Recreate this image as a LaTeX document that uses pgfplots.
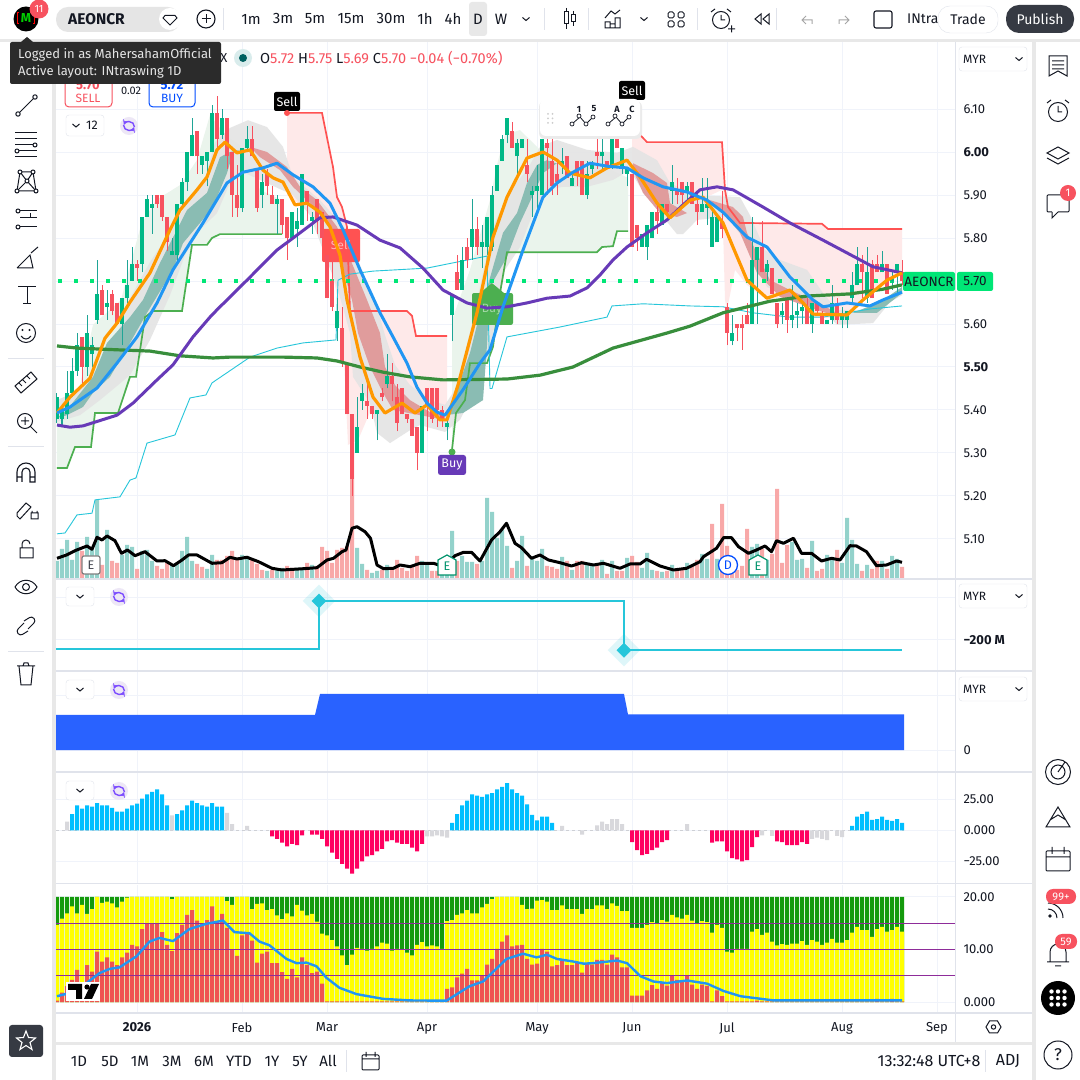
\documentclass[border=0pt]{standalone}
\usepackage{pgfplots}
\usepackage{pgfplotstable}
\usepackage{fontspec}
\pgfplotsset{compat=1.18}
\setmainfont{Fira Sans}
\definecolor{ink}{HTML}{131722}
\definecolor{gridc}{HTML}{F0F3FA}
\definecolor{sep}{HTML}{E0E3EB}
\definecolor{band}{HTML}{E8E8E8}
\definecolor{upw}{HTML}{1FA596}
\definecolor{upb}{HTML}{00B886}
\definecolor{dn}{HTML}{F7525F}
\definecolor{volu}{HTML}{93D2CB}
\definecolor{vold}{HTML}{F8A8A8}
\definecolor{pinkf}{HTML}{FEE9E9}
\definecolor{greenf}{HTML}{EAF4EC}
\definecolor{cloud}{HTML}{E4E4E4}
\definecolor{tealb}{HTML}{8ABCB3}
\definecolor{redb}{HTML}{E09C9C}
\definecolor{maor}{HTML}{FF9800}
\definecolor{mabl}{HTML}{2196F3}
\definecolor{mapu}{HTML}{673AB7}
\definecolor{magr}{HTML}{388E3C}
\definecolor{stopr}{HTML}{FF5252}
\definecolor{stopg}{HTML}{4CAF50}
\definecolor{thinc}{HTML}{26C6DA}
\definecolor{dotg}{HTML}{00E676}
\definecolor{histb}{HTML}{00BFFF}
\definecolor{histp}{HTML}{FF0060}
\definecolor{histg}{HTML}{D8D8DC}
\definecolor{pgreen}{HTML}{149A0C}
\definecolor{pyellow}{HTML}{FFFF00}
\definecolor{pred}{HTML}{EF5350}
\definecolor{ppurple}{HTML}{8E2C9A}
\definecolor{syncbg}{HTML}{EDE7F6}
\definecolor{syncf}{HTML}{7C4DFF}
\definecolor{paneb}{HTML}{2962FF}
\pgfplotstableread{
i o h l c
0 5.38 5.44 5.37 5.43
1 5.38 5.41 5.36 5.40
2 5.39 5.49 5.38 5.44
3 5.44 5.52 5.43 5.49
4 5.49 5.58 5.48 5.55
5 5.57 5.57 5.46 5.50
6 5.50 5.62 5.48 5.58
7 5.53 5.57 5.50 5.55
8 5.61 5.75 5.60 5.67
9 5.68 5.69 5.62 5.62
10 5.64 5.68 5.61 5.65
11 5.67 5.68 5.62 5.63
12 5.65 5.65 5.60 5.60
13 5.60 5.66 5.55 5.66
14 5.66 5.75 5.65 5.69
15 5.70 5.78 5.70 5.74
16 5.74 5.75 5.70 5.73
17 5.74 5.85 5.72 5.85
18 5.85 5.90 5.85 5.89
19 5.87 5.90 5.81 5.88
20 5.90 5.90 5.87 5.88
21 5.90 5.90 5.84 5.85
22 5.85 5.85 5.77 5.79
23 5.76 5.80 5.76 5.77
24 5.76 5.88 5.74 5.88
25 5.88 5.94 5.87 5.93
26 5.93 6.00 5.91 6.00
27 5.99 6.08 5.99 6.04
28 6.05 6.05 5.95 5.99
29 5.97 5.99 5.95 5.99
30 5.98 6.00 5.92 6.00
31 6.00 6.11 6.00 6.09
32 6.09 6.13 6.00 6.03
33 6.04 6.10 6.03 6.08
34 6.08 6.08 5.96 5.99
35 6.00 6.00 5.85 5.90
36 5.90 5.97 5.85 5.87
37 5.87 6.01 5.86 6.01
38 6.01 6.06 6.00 6.03
39 6.03 6.06 5.99 5.99
40 5.96 5.96 5.86 5.87
41 5.90 5.95 5.87 5.93
42 5.95 5.96 5.90 5.92
43 5.90 5.92 5.88 5.88
44 5.88 5.90 5.81 5.89
45 5.89 5.89 5.81 5.83
46 5.85 5.85 5.75 5.80
47 5.80 5.86 5.80 5.86
48 5.82 5.87 5.78 5.84
49 5.83 5.95 5.83 5.95
50 5.91 5.91 5.84 5.88
51 5.84 5.86 5.81 5.85
52 5.89 5.89 5.81 5.84
53 5.86 5.86 5.80 5.80
54 5.76 5.76 5.66 5.66
55 5.70 5.75 5.63 5.64
56 5.59 5.66 5.56 5.63
57 5.59 5.64 5.50 5.51
58 5.51 5.51 5.39 5.39
59 5.39 5.39 5.20 5.24
60 5.30 5.43 5.30 5.36
61 5.42 5.46 5.40 5.44
62 5.42 5.46 5.38 5.41
63 5.41 5.41 5.38 5.39
64 5.39 5.40 5.33 5.40
65 5.44 5.45 5.42 5.43
66 5.46 5.53 5.45 5.48
67 5.48 5.51 5.42 5.46
68 5.43 5.46 5.35 5.37
69 5.45 5.45 5.39 5.39
70 5.39 5.39 5.37 5.38
71 5.38 5.38 5.34 5.34
72 5.36 5.36 5.26 5.30
73 5.30 5.41 5.30 5.41
74 5.45 5.45 5.35 5.41
75 5.45 5.45 5.37 5.38
76 5.45 5.45 5.36 5.40
77 5.40 5.41 5.36 5.38
78 5.36 5.39 5.33 5.37
79 5.62 5.67 5.56 5.67
80 5.72 5.76 5.68 5.68
81 5.68 5.78 5.68 5.75
82 5.78 5.80 5.73 5.75
83 5.78 5.89 5.75 5.82
84 5.82 5.85 5.76 5.78
85 5.78 5.83 5.73 5.79
86 5.78 5.85 5.76 5.85
87 5.78 5.92 5.77 5.90
88 5.91 5.97 5.91 5.97
89 5.98 6.04 5.98 6.03
90 6.04 6.08 6.02 6.08
91 6.05 6.07 6.01 6.01
92 5.99 6.03 5.95 6.02
93 6.01 6.03 6.01 6.03
94 5.97 6.03 5.93 5.95
95 5.90 5.92 5.85 5.91
96 5.91 5.97 5.87 5.92
97 5.90 6.03 5.90 6.03
98 6.02 6.06 5.90 6.01
99 5.98 6.03 5.90 5.92
100 5.95 5.98 5.90 5.93
101 5.97 6.01 5.95 5.98
102 5.99 5.99 5.94 5.94
103 5.92 5.95 5.92 5.94
104 5.98 5.98 5.92 5.95
105 5.98 5.98 5.90 5.90
106 5.90 5.98 5.89 5.95
107 5.96 5.98 5.95 5.97
108 6.00 6.03 5.96 5.99
109 5.99 6.03 5.96 6.00
110 5.98 5.98 5.96 5.96
111 5.97 6.03 5.96 6.03
112 6.03 6.06 6.01 6.01
113 5.96 6.01 5.95 6.01
114 5.95 5.96 5.92 5.96
115 5.95 5.95 5.78 5.78
116 5.83 5.83 5.77 5.80
117 5.78 5.81 5.78 5.81
118 5.78 5.83 5.75 5.83
119 5.80 5.86 5.80 5.86
120 5.86 5.88 5.81 5.84
121 5.83 5.88 5.83 5.88
122 5.88 5.88 5.85 5.86
123 5.91 5.97 5.88 5.93
124 5.91 5.94 5.88 5.90
125 5.93 5.93 5.87 5.90
126 5.91 5.93 5.89 5.92
127 5.93 5.93 5.88 5.88
128 5.88 5.91 5.83 5.86
129 5.86 5.94 5.86 5.88
130 5.87 5.94 5.83 5.88
131 5.78 5.87 5.78 5.85
132 5.79 5.85 5.79 5.85
133 5.84 5.91 5.80 5.82
134 5.64 5.65 5.55 5.58
135 5.56 5.62 5.55 5.58
136 5.60 5.60 5.56 5.59
137 5.60 5.62 5.54 5.59
138 5.62 5.65 5.60 5.60
139 5.60 5.85 5.60 5.75
140 5.75 5.78 5.60 5.78
141 5.78 5.84 5.72 5.72
142 5.72 5.75 5.70 5.74
143 5.73 5.73 5.67 5.67
144 5.65 5.65 5.59 5.60
145 5.62 5.65 5.60 5.63
146 5.66 5.66 5.58 5.61
147 5.61 5.69 5.59 5.62
148 5.62 5.65 5.59 5.63
149 5.63 5.65 5.60 5.64
150 5.64 5.66 5.60 5.60
151 5.60 5.65 5.58 5.65
152 5.65 5.65 5.62 5.63
153 5.62 5.63 5.60 5.60
154 5.60 5.61 5.60 5.61
155 5.61 5.69 5.60 5.65
156 5.65 5.66 5.60 5.61
157 5.61 5.64 5.59 5.62
158 5.61 5.63 5.59 5.63
159 5.66 5.72 5.65 5.69
160 5.69 5.78 5.69 5.74
161 5.74 5.76 5.66 5.72
162 5.66 5.78 5.65 5.72
163 5.74 5.75 5.66 5.66
164 5.74 5.76 5.72 5.72
165 5.72 5.77 5.72 5.74
166 5.74 5.74 5.67 5.67
167 5.70 5.72 5.68 5.71
168 5.72 5.74 5.67 5.74
169 5.72 5.75 5.69 5.70
}\candles
\pgfplotstableread[row sep=\\]{
i v\\0 17\\1 29\\2 38\\3 18\\4 36\\6 41\\7 30\\8 78\\10 48\\13 23\\14 33\\15 31\\17 27\\18 28\\19 17\\23 13\\24 15\\25 27\\26 41\\27 17\\30 9\\31 23\\37 23\\38 22\\42 7\\44 8\\45 10\\48 10\\49 10\\51 13\\60 30\\61 14\\63 5\\64 7\\66 13\\73 17\\74 13\\77 3\\78 5\\79 47\\81 22\\82 16\\83 16\\85 17\\86 80\\87 66\\88 40\\89 48\\90 32\\92 17\\93 42\\95 19\\96 17\\97 29\\101 21\\103 8\\106 13\\107 12\\109 18\\111 17\\114 20\\117 10\\118 25\\119 8\\121 6\\123 13\\126 15\\129 24\\130 19\\132 19\\139 31\\140 34\\142 18\\147 36\\148 18\\149 19\\151 37\\154 23\\155 18\\157 15\\158 60\\159 38\\160 14\\162 13\\165 17\\167 22\\168 19\\
}\volup
\pgfplotstableread[row sep=\\]{
i v\\5 27\\9 13\\11 17\\12 15\\16 9\\20 12\\21 9\\22 15\\28 14\\29 11\\32 18\\33 18\\34 22\\35 27\\36 20\\39 18\\40 14\\41 8\\43 8\\46 12\\47 10\\50 15\\52 12\\53 31\\54 27\\55 15\\56 28\\57 30\\58 32\\59 135\\62 8\\65 8\\67 9\\68 18\\69 10\\70 7\\71 13\\72 22\\75 7\\76 7\\80 17\\84 14\\91 10\\94 12\\98 12\\99 11\\100 9\\102 17\\104 17\\105 17\\108 13\\110 4\\112 7\\113 7\\115 22\\116 16\\120 7\\122 7\\124 7\\125 8\\127 13\\128 18\\131 54\\133 74\\134 32\\135 13\\136 8\\137 12\\138 49\\141 29\\143 24\\144 89\\145 15\\146 33\\150 10\\152 7\\153 9\\156 28\\161 7\\163 9\\164 17\\166 9\\169 11\\
}\voldn
\pgfplotstableread[row sep=\\]{
i v\\3 13\\4 20\\5 17.4\\6 20\\7 19\\8 22\\9 20\\10 20\\11 18\\12 15\\13 15\\14 17.4\\15 20\\16 21.5\\17 25.5\\18 29\\19 31\\20 33\\21 29\\22 20\\24 13\\25 16\\26 20\\27 24\\28 22\\29 20\\30 19\\31 22\\32 19\\33 19\\79 6\\80 13\\81 20\\82 24\\83 29\\84 28\\85 27\\86 29\\87 30\\88 33\\89 35\\90 38\\91 33\\92 30\\93 28\\94 21\\95 12.5\\96 8\\97 11\\98 11\\99 6\\159 3.5\\160 11\\161 13\\162 15\\163 8.5\\164 9\\165 11\\166 8.5\\167 7.5\\168 9\\169 6\\
}\histblue
\pgfplotstableread[row sep=\\]{
i v\\43 -5\\44 -7\\45 -10\\46 -13\\47 -11\\48 -12\\49 -4\\51 -3.5\\52 -3.5\\53 -7\\54 -13\\55 -18\\56 -23\\57 -27\\58 -31\\59 -35\\60 -31\\61 -25\\62 -21\\63 -20\\64 -17\\65 -15\\66 -9\\67 -8\\68 -10\\69 -11\\70 -11\\71 -14\\72 -17\\73 -11\\115 -9.5\\116 -16\\117 -20\\118 -19\\119 -16\\120 -14\\121 -9.5\\122 -8\\131 -10\\132 -9\\133 -9\\134 -17\\135 -22.5\\136 -23.5\\137 -25\\138 -24\\139 -13.5\\140 -5.5\\144 -9\\145 -9.5\\146 -12\\147 -12\\148 -12\\149 -9.5\\150 -11\\
}\histpink
\pgfplotstableread[row sep=\\]{
i v\\2 7\\23 12\\34 14\\35 5\\38 3.5\\74 -5\\75 -5\\76 -4\\77 -5\\78 -6\\101 3.5\\105 -3.5\\108 4\\109 7\\110 5\\111 9\\112 9\\113 5\\126 5\\141 -4\\143 -4.5\\151 -7\\152 -6\\153 -7\\154 -8\\156 -4.5\\157 -5.5\\
}\histgray
\pgfplotstableread[row sep=\\]{
i g y r\\
0 20 14.7 0.25\\1 20 15.9 1.8\\2 20 16.9 3.0\\3 20 18.2 4.2\\4 20 16.9 6.1\\5 20 18.5 3.6\\6 20 16.8 7.0\\7 20 17.7 5.8\\8 20 20 9.6\\9 20 18.9 7.7\\
10 20 19.1 8.5\\11 20 18.8 7.7\\12 20 18.0 7.0\\13 20 19.1 8.5\\14 20 19.9 9.4\\15 20 20 10.9\\16 20 20 10.6\\17 20 20 13.9\\18 20 20 14.9\\19 20 20 14.9\\
20 20 20 14.9\\21 20 20 13.3\\22 20 20 10.9\\23 20 19.6 9.7\\24 20 20 13.1\\25 20 20 14.7\\26 20 20 16.6\\27 20 20 17.5\\28 20 20 15.5\\29 20 20 14.9\\
30 20 20 15.6\\31 20 20 18.2\\32 20 20 15.4\\33 20 20 16.8\\34 20 19.2 14.1\\35 20 18.5 9.9\\36 20 20 8.8\\37 20 20 12.7\\38 20 20 13.1\\39 20 17.7 11.7\\
40 20 18.7 7.5\\41 20 18.8 9.2\\42 20 17.5 9.6\\43 20 17.7 7.4\\44 20 16.5 7.4\\45 20 15.8 5.7\\46 20 16.9 4.4\\47 20 16.3 6.3\\48 20 18.5 4.7\\49 20 17.4 8.5\\
50 20 16.5 7.0\\51 20 16.8 5.5\\52 20 15.3 5.8\\53 20 13.0 3.5\\54 20 12.7 0.1\\55 20 11.8 0.1\\56 20 10.6 0.1\\57 20 8.9 0.1\\58 20 7.0 0.1\\59 20 9.0 0.1\\
60 20 10.3 0.1\\61 20 10.1 0.1\\62 20 9.8 0.1\\63 20 10.1 0.1\\64 20 10.6 0.1\\65 20 11.3 0.1\\66 20 11.1 0.1\\67 20 9.8 0.1\\68 20 10.1 0.1\\69 20 9.9 0.1\\
70 20 9.4 0.1\\71 20 8.9 0.1\\72 20 10.9 0.1\\73 20 11.4 0.1\\74 20 10.6 0.1\\75 20 10.8 0.1\\76 20 10.6 0.1\\77 20 10.1 0.1\\78 20 15.4 2.5\\79 20 15.6 2.8\\
80 20 16.6 4.7\\81 20 16.9 5.4\\82 20 17.5 6.3\\83 20 16.9 4.1\\84 20 16.9 4.1\\85 20 18.0 5.1\\86 20 18.7 7.1\\87 20 19.6 8.2\\88 20 20 10.1\\89 20 20 11.5\\
90 20 20 12.7\\91 20 20 10.6\\92 20 20 10.8\\93 20 18.5 10.9\\94 20 17.7 8.2\\95 20 17.8 7.1\\96 20 19.3 7.3\\97 20 19.4 10.1\\98 20 19.1 9.6\\99 20 17.5 6.8\\
100 20 17.5 7.0\\101 20 18.4 7.9\\102 20 17.7 7.0\\103 20 17.7 7.0\\104 20 17.7 7.4\\105 20 16.8 5.6\\106 20 17.7 7.3\\107 20 17.7 7.1\\108 20 18.4 8.0\\109 20 18.4 8.0\\
110 20 17.7 7.1\\111 20 18.8 9.0\\112 20 18.3 8.5\\113 20 17.3 6.6\\114 20 17.3 6.6\\115 20 14.1 1.2\\116 20 14.1 1.2\\117 20 14.1 1.2\\118 20 14.7 2.2\\119 20 15.2 3.2\\
120 20 15.0 2.5\\121 20 15.6 3.6\\122 20 15.3 3.1\\123 20 16.6 5.1\\124 20 16.1 4.2\\125 20 15.9 3.9\\126 20 16.6 5.1\\127 20 15.5 3.3\\128 20 15.0 2.5\\129 20 15.4 3.3\\
130 20 15.2 3.0\\131 20 13.2 0.1\\132 20 14.7 2.2\\133 20 14.1 1.1\\134 20 9.6 0.1\\135 20 9.4 0.1\\136 20 10.1 0.1\\137 20 10.1 0.1\\138 20 10.1 0.1\\139 20 13.4 0.1\\
140 20 13.9 0.25\\141 20 12.8 0.1\\142 20 13.2 0.1\\143 20 11.5 0.1\\144 20 10.8 0.1\\145 20 11.0 0.1\\146 20 10.9 0.1\\147 20 11.1 0.1\\148 20 11.1 0.1\\149 20 11.6 0.1\\
150 20 10.9 0.1\\151 20 11.8 0.1\\152 20 11.5 0.1\\153 20 10.9 0.1\\154 20 11.3 0.1\\155 20 12.0 0.1\\156 20 11.3 0.1\\157 20 11.3 0.1\\158 20 11.8 0.1\\159 20 13.2 0.1\\
160 20 14.3 0.1\\161 20 13.7 0.1\\162 20 13.7 0.1\\163 20 12.4 0.1\\164 20 13.9 0.6\\165 20 14.3 0.1\\166 20 13.4 0.1\\167 20 13.7 0.6\\168 20 14.3 0.1\\169 20 13.4 0.1\\
}\panel
\pgfplotsset{
 pane/.style={scale only axis,width=899pt,xmin=-0.2,xmax=179.6,anchor=south west,
   axis line style={draw=none},clip=true,
   xtick={16,37,54,74,96,115,134,157,176},xticklabels={},
   xmajorgrids,ymajorgrids,grid style={gridc,line width=1pt},
   tick style={draw=none},
   yticklabel pos=right,
   yticklabel style={font=\fontsize{13}{13}\selectfont,text=ink,anchor=west,xshift=5pt},
   xticklabel style={font=\fontsize{13}{13}\selectfont,text=ink},
 },
 over/.style={scale only axis,width=899pt,xmin=-0.2,xmax=179.6,anchor=south west,hide axis,clip=true},
 bars/.style={ybar,bar width=4pt,bar shift=0pt,draw=none,forget plot},
}
\begin{document}
\begin{tikzpicture}[x=1pt,y=1pt]
\path[use as bounding box] (0,0) rectangle (1080,1080);
\fill[white] (0,0) rectangle (1080,1080);
\begin{axis}[pane,at={(56pt,502pt)},height=538pt,ymin=5.0093,ymax=6.2605,
  ytick={5.1,5.2,5.3,5.4,5.5,5.6,5.7,5.8,5.9,6.0,6.1},
  yticklabels={5.10,5.20,5.30,5.40,\textbf{5.50},5.60,5.70,5.80,5.90,\textbf{6.00},6.10}]
\addplot[draw=none,forget plot] coordinates {(0,5.7)(169,5.7)};
\end{axis}
\begin{axis}[over,at={(56pt,502pt)},height=538pt,ymin=0,ymax=538]
\addplot[bars,fill=volu] table[x=i,y=v] {\volup};
\addplot[bars,fill=vold] table[x=i,y=v] {\voldn};
\end{axis}
\begin{axis}[over,at={(56pt,502pt)},height=538pt,ymin=5.0093,ymax=6.2605]
\addplot[fill=pinkf,draw=none,forget plot] coordinates {(46,6.091)(53,6.091)(55.2,5.965)(56,5.895)(57,5.872)(58,5.826)(58.6,5.63)(70,5.63)(71,5.619)(71.8,5.572)(78,5.572)(78,5.377)(74.6,5.388)(70.6,5.388)(66.6,5.388)(62.6,5.395)(60.2,5.330)(58.2,5.319)(57.4,5.516)(55.8,5.679)(53.6,5.795)(50.6,5.888)(48.6,5.877)(46,5.900)};
\addplot[fill=pinkf,draw=none,forget plot] coordinates {(115,6.044)(116.6,6.040)(118,6.023)(133,6.023)(133.6,5.912)(134.2,5.872)(136.6,5.835)(153,5.833)(154.2,5.821)(169,5.821)(169,5.719)(166,5.702)(161.2,5.656)(158,5.614)(151.2,5.614)(149.2,5.649)(146.6,5.667)(142,5.656)(138,5.691)(135.6,5.726)(134,5.633)(133.6,5.656)(133,5.912)(128.6,5.888)(124.6,5.877)(122.6,5.847)(119.6,5.877)(116.6,5.935)(115,5.958)};
\addplot[fill=greenf,draw=none,forget plot] coordinates {(0,5.400)(4.6,5.458)(7.2,5.598)(12.8,5.656)(16.8,5.830)(19.8,5.888)(24.6,5.923)(28,5.981)(30.6,6.086)(33.6,6.040)(36.6,6.016)(40.6,5.912)(45,5.888)(45,5.809)(32.6,5.809)(31,5.800)(30,5.784)(27,5.784)(25,5.630)(19.2,5.630)(17.6,5.616)(15.8,5.477)(14.6,5.477)(12.2,5.393)(7.6,5.393)(6.8,5.314)(3.6,5.314)(2,5.265)(0,5.265)};
\addplot[fill=greenf,draw=none,forget plot] coordinates {(79,5.609)(82.6,5.726)(84.6,5.807)(86.6,5.888)(88,5.970)(89.6,6.040)(92.6,6.051)(96.6,6.005)(102.6,5.970)(108.6,5.970)(114.2,5.940)(114.2,5.816)(112,5.816)(111.2,5.781)(109,5.779)(108,5.767)(90,5.767)(88.6,5.672)(87.2,5.547)(86,5.509)(82.6,5.509)(81.6,5.423)(79.8,5.393)(79,5.307)};
\addplot[fill=cloud,fill opacity=0.9,draw=none,forget plot] coordinates {(0,5.423)(4.6,5.446)(8.6,5.505)(12.2,5.581)(14.6,5.660)(18.6,5.744)(22.6,5.814)(26.6,5.893)(29.6,5.940)(31.6,6.023)(34.6,6.056)(38.2,6.074)(42,6.058)(45.2,6.012)(47.2,5.942)(52.6,5.888)(57.6,5.823)(60.6,5.737)(63.6,5.656)(65.6,5.574)(67.6,5.505)(70.6,5.458)(74.6,5.423)(77.6,5.412)(80.2,5.458)(83.6,5.633)(87.2,5.826)(90.6,5.912)(94,5.958)(96.6,6.012)(100,6.028)(106,6.005)(112,5.998)(115.2,6.012)(120,5.981)(122.6,5.928)(127.2,5.900)(136.6,5.895)(138.6,5.853)(141.6,5.772)(144.6,5.749)(150,5.726)(153.2,5.672)(156,5.633)(162.6,5.633)(169,5.686)(169,5.667)(166.6,5.651)(163.2,5.602)(156,5.598)(153.2,5.633)(146.6,5.663)(142,5.686)(138,5.788)(134,5.849)(128,5.842)(125.2,5.809)(124,5.809)(121.2,5.849)(116.6,5.919)(114.6,5.958)(111.2,5.935)(106,5.919)(101.2,5.919)(98,5.912)(95.2,5.858)(92.6,5.779)(89.6,5.726)(86.6,5.540)(83.6,5.447)(80.6,5.377)(77.6,5.349)(72.6,5.365)(70.6,5.353)(66.6,5.323)(64,5.347)(62.6,5.416)(59.2,5.477)(58.6,5.579)(56.2,5.679)(50.6,5.853)(47.2,5.900)(37.2,5.953)(34.6,5.928)(32,5.858)(28.6,5.819)(25.6,5.760)(22.6,5.667)(18.6,5.563)(14.6,5.481)(8.6,5.423)(4.6,5.388)(0,5.372)};
\addplot[fill=tealb,draw=none,forget plot] coordinates {(2,5.400)(7.2,5.477)(10,5.556)(14.6,5.616)(17.2,5.656)(20.6,5.742)(26,5.865)(30,5.905)(32.6,5.988)(34.6,6.000)(36.6,6.005)(35.2,5.998)(34,5.951)(31.2,5.872)(28.6,5.835)(25.2,5.788)(23.2,5.726)(18,5.626)(14.6,5.556)(10.6,5.477)(7.2,5.440)(5.2,5.407)(2,5.388)(0,5.381)};
\addplot[fill=redb,draw=none,forget plot] coordinates {(38.6,6.012)(42,6.000)(46,5.965)(48.6,5.919)(52,5.888)(56,5.826)(62,5.656)(64.6,5.579)(65.6,5.500)(67.6,5.458)(70.6,5.423)(74.6,5.395)(77.6,5.388)(77.6,5.377)(72.6,5.388)(67.2,5.400)(65.2,5.440)(62.6,5.500)(60.2,5.579)(59,5.656)(54.6,5.826)(50.6,5.881)(47.2,5.919)(44.6,5.958)(40.6,5.988)};
\addplot[fill=tealb,draw=none,forget plot] coordinates {(77.6,5.388)(80,5.447)(82.6,5.533)(84.6,5.626)(87.2,5.732)(89.2,5.812)(92,5.858)(94,5.928)(96,5.970)(98,5.981)(102,5.965)(100,5.974)(97.2,5.951)(95,5.895)(92.6,5.835)(90,5.756)(86.6,5.686)(86,5.551)(85.2,5.423)(81.2,5.393)};
\addplot[fill=redb,draw=none,forget plot] coordinates {(115.2,5.974)(119.2,5.951)(122,5.928)(122.6,5.881)(126,5.858)(124,5.849)(120.6,5.858)(117.2,5.905)(115.2,5.958)};
\addplot[fill=redb,draw=none,forget plot] coordinates {(130.6,5.888)(135.2,5.872)(137.2,5.849)(138,5.812)(142.6,5.702)(146.6,5.679)(153.2,5.644)(157.6,5.614)(153.2,5.628)(144.6,5.663)(140,5.719)(136.6,5.812)(134,5.849)};
\addplot[fill=tealb,draw=none,forget plot] coordinates {(159.2,5.626)(164.6,5.651)(169,5.686)(169,5.672)(164,5.626)};
\addplot[stopr,line width=1.7pt,forget plot] coordinates {(46,6.091)(53,6.091)(55.2,5.965)(56,5.895)(57,5.872)(58,5.826)(58.6,5.63)(70,5.63)(71,5.619)(71.8,5.572)(78,5.572)};
\addplot[stopr,line width=1.7pt,forget plot] coordinates {(115,6.044)(116.6,6.040)(118,6.023)(133,6.023)(133.6,5.912)(134.2,5.872)(136.6,5.835)(153,5.833)(154.2,5.821)(169,5.821)};
\addplot[stopg,line width=1.7pt,forget plot] coordinates {(0,5.265)(2,5.265)(3.6,5.314)(6.8,5.314)(7.6,5.393)(12.2,5.393)(14.6,5.477)(15.8,5.477)(17.6,5.616)(19.2,5.630)(25,5.630)(27,5.784)(30,5.784)(31,5.800)(32.6,5.809)(45,5.809)};
\addplot[stopg,line width=1.7pt,forget plot] coordinates {(79,5.307)(79.8,5.393)(81.6,5.423)(82.6,5.509)(86,5.509)(87.2,5.547)(88.6,5.672)(90,5.767)(108,5.767)(109,5.779)(111.2,5.781)(112,5.816)(114.2,5.816)};
\addplot[thinc,line width=0.9pt,forget plot] coordinates {(0,5.112)(1.6,5.114)(4,5.156)(7,5.160)(7.6,5.191)(12.6,5.198)(14.6,5.237)(15.8,5.242)(18,5.323)(23.6,5.342)(26.6,5.428)(29.8,5.435)(31,5.463)(38.6,5.523)(44,5.544)(49.2,5.556)(55.8,5.563)(56.2,5.702)(58.6,5.716)(63.2,5.723)(74,5.730)(80,5.744)(86,5.758)(86.6,5.450)(87,5.450)(90,5.570)(100.6,5.593)(110,5.616)(111,5.642)(117.2,5.647)(126.6,5.642)(133.2,5.640)(139.2,5.626)(146.6,5.616)(153.2,5.616)(162.6,5.635)(169,5.642)};
\addplot[dotg,line width=4pt,dash pattern=on 4pt off 12pt,forget plot] coordinates {(0.2,5.70)(169,5.70)};
\fill[stopr,rounded corners=2pt] (axis cs:53,5.821) rectangle (axis cs:60.6,5.744);
\node[inner sep=0,text=white!60!stopr] at (axis cs:56.8,5.784) {\fontsize{12}{12}\selectfont Sell};
\fill[stopg,rounded corners=2pt] (axis cs:83,5.672) rectangle (axis cs:91.2,5.598);
\fill[stopg] (axis cs:84.6,5.672)--(axis cs:87,5.695)--(axis cs:89.4,5.672)--cycle;
\node[inner sep=0,text=white!50!stopg] at (axis cs:87,5.633) {\fontsize{12}{12}\selectfont Buy};
\addplot[draw=none,mark=none,forget plot,restrict expr to domain={\thisrow{c}-\thisrow{o}}{0:2},
  error bars/.cd,y dir=both,y explicit,error mark=none,error bar style={upw,line width=1pt}]
  table[x=i,y=l,y error plus expr=\thisrow{h}-\thisrow{l},y error minus expr=0] {\candles};
\addplot[draw=none,mark=none,forget plot,restrict expr to domain={\thisrow{o}-\thisrow{c}}{0.001:2},
  error bars/.cd,y dir=both,y explicit,error mark=none,error bar style={dn,line width=1pt}]
  table[x=i,y=l,y error plus expr=\thisrow{h}-\thisrow{l},y error minus expr=0] {\candles};
\addplot[draw=none,mark=none,forget plot,restrict expr to domain={\thisrow{c}-\thisrow{o}}{0:2},
  error bars/.cd,y dir=both,y explicit,error mark=none,error bar style={upb,line width=3.4pt}]
  table[x=i,y=o,y error plus expr=\thisrow{c}-\thisrow{o},y error minus expr=0] {\candles};
\addplot[draw=none,mark=none,forget plot,restrict expr to domain={\thisrow{o}-\thisrow{c}}{0.001:2},
  error bars/.cd,y dir=both,y explicit,error mark=none,error bar style={dn,line width=3.4pt}]
  table[x=i,y=c,y error plus expr=\thisrow{o}-\thisrow{c},y error minus expr=0] {\candles};
\addplot[magr,line width=3.2pt,forget plot,line join=round] coordinates {(0,5.549)(4,5.544)(12,5.540)(18.6,5.537)(24.6,5.526)(31.2,5.521)(34.6,5.523)(45.2,5.523)(52,5.521)(56,5.514)(60.6,5.500)(65.2,5.488)(70.6,5.477)(77.2,5.470)(90,5.472)(96.6,5.481)(103.2,5.500)(111.2,5.544)(122,5.579)(126.6,5.595)(133.2,5.626)(142.6,5.653)(150,5.665)(158.6,5.670)(165.2,5.681)(169,5.691)};
\addplot[mapu,line width=3pt,forget plot,line join=round] coordinates {(0,5.365)(2.6,5.360)(5.2,5.363)(12,5.388)(15.2,5.416)(20,5.470)(23.2,5.505)(27.2,5.570)(30.6,5.616)(32,5.633)(38,5.702)(44,5.772)(48.6,5.812)(52.6,5.847)(55.2,5.849)(60,5.830)(64.6,5.795)(68.6,5.777)(73.2,5.730)(77.2,5.679)(82,5.649)(86,5.637)(90,5.640)(94,5.649)(98,5.660)(102.6,5.665)(106,5.684)(108.6,5.714)(111.2,5.749)(114,5.779)(118,5.812)(122,5.842)(125.2,5.877)(128.6,5.912)(132,5.919)(135.2,5.912)(141.2,5.872)(146.6,5.835)(153.2,5.795)(160,5.753)(163.2,5.733)(169,5.719)};
\addplot[maor,line width=3.2pt,forget plot,line join=round] coordinates {(0,5.393)(2.6,5.430)(6.6,5.474)(9.6,5.567)(12,5.602)(14.6,5.651)(18.6,5.719)(22.6,5.819)(24.6,5.865)(28,5.912)(30,5.942)(32,6.005)(33.6,6.023)(36,5.998)(38.6,6.005)(41.2,5.958)(43.2,5.940)(45.2,5.930)(47.6,5.877)(50,5.881)(52.6,5.860)(54.6,5.826)(56.6,5.760)(58,5.656)(60.6,5.523)(63.2,5.430)(65.6,5.393)(69,5.416)(71.6,5.393)(74,5.412)(76.6,5.377)(78,5.377)(80.2,5.458)(84,5.626)(87.2,5.802)(90,5.895)(94,5.986)(97.2,6.000)(100,5.981)(102.6,5.951)(106.6,5.940)(110,5.963)(114,5.981)(116.6,5.942)(120,5.881)(122.6,5.847)(126.6,5.888)(129.2,5.895)(133.2,5.835)(135.2,5.779)(138,5.702)(142,5.660)(146.6,5.679)(149.2,5.649)(151.2,5.623)(158,5.621)(161.2,5.656)(166,5.702)(169,5.719)};
\addplot[mabl,line width=3pt,forget plot,line join=round] coordinates {(0,5.393)(2.6,5.407)(8,5.451)(12,5.509)(16,5.570)(20,5.649)(23.2,5.726)(26.6,5.788)(29.2,5.835)(34,5.928)(37.2,5.953)(41.2,5.963)(44,5.974)(47.2,5.947)(51.2,5.919)(54.6,5.881)(57.2,5.819)(60.6,5.726)(64.6,5.626)(67.2,5.570)(70,5.509)(72,5.453)(74,5.416)(76,5.395)(77.6,5.388)(81.2,5.447)(84.6,5.509)(86.6,5.540)(89.2,5.640)(93.2,5.772)(97.2,5.895)(100,5.928)(103.2,5.953)(106.6,5.974)(110,5.967)(114,5.963)(117.2,5.940)(121.2,5.919)(126,5.907)(130,5.888)(133.2,5.860)(138,5.802)(142,5.779)(146.6,5.709)(151.2,5.656)(153.2,5.640)(158,5.649)(162.6,5.642)(165.2,5.656)(169,5.674)};
\end{axis}
\begin{axis}[over,at={(56pt,502pt)},height=538pt,ymin=0,ymax=538]
\addplot[black,line width=3pt,line join=round,forget plot] coordinates {(0,19.7)(1.9,23)(3.6,27.3)(6,32)(7,28.7)(8,40.7)(9,38)(10,42)(11.6,37.3)(12.9,24.7)(14.1,28)(15.6,22.3)(17.6,26.3)(20,17)(21.6,17.3)(23.3,12.3)(25,18)(26.3,23)(28,23)(31,14.7)(33,15.3)(34.6,20.7)(36,19)(38,20.7)(40.3,16.3)(43,9.7)(45,8)(49.3,9.3)(52,10.3)(54,18)(55.3,19.7)(57,26.3)(57.8,28)(59,49.7)(60,51.3)(61.6,46.3)(62.7,39.7)(64,13)(65.3,9.3)(67.3,9.7)(68.6,13)(70.6,11.3)(72.6,14.7)(75.3,14.7)(77.3,11.3)(79.6,22.3)(81.3,25.7)(82.9,25.7)(84.6,17)(86.9,38)(88.6,46.3)(89.9,54.7)(91.6,34.7)(92.9,30.3)(94.9,19.7)(96.6,23)(98.3,18)(100.6,15.3)(102.9,12)(104.9,15.3)(107.3,13)(109.3,14.7)(112.6,9.7)(114.6,14)(116.6,14)(117.9,18.7)(120.6,12)(123.3,8)(125.9,9.7)(128.6,16.3)(129.3,21.3)(131.9,29.7)(133.3,40.3)(134.9,40.3)(136.3,31.3)(138.3,24.7)(139.9,28)(141.6,32)(142.9,26.3)(143.9,37.3)(145.3,34.7)(147.3,39.7)(148.9,24.7)(150.9,24.7)(152.9,17)(154.9,19.7)(156.6,18)(158.6,32.3)(159.9,32)(161.9,26.3)(163.9,12.3)(165.9,13)(167.9,17)(169,15.7)};
\end{axis}
\begin{axis}[pane,at={(56pt,410pt)},height=90pt,ymin=-270.6,ymax=-58.8,ytick={-200,-100},yticklabels={\textbf{−200 M},{}}]
\addplot[thinc,line width=2.4pt,forget plot] coordinates {(-0.2,-221)(52.4,-221)(52.4,-108)(113.4,-108)(113.4,-224)(169,-224)};
\addplot[only marks,mark=square*,mark size=11.5pt,mark options={rotate=45,fill=thinc,fill opacity=0.15,draw opacity=0,rounded corners=2pt},forget plot] coordinates {(52.4,-108)(113.4,-224)};
\addplot[only marks,mark=square*,mark size=5pt,mark options={rotate=45,fill=thinc,draw=thinc},forget plot] coordinates {(52.4,-108)(113.4,-224)};
\end{axis}
\begin{axis}[pane,at={(56pt,309pt)},height=99pt,ymin=-38,ymax=142,ytick={0,100},yticklabels={0,{}}]
\addplot[fill=paneb,draw=none,forget plot] coordinates {(-0.2,64)(51.6,64)(52.6,102)(113.4,102)(114.2,65)(169.4,65)(169.4,0)(-0.2,0)};
\end{axis}
\begin{axis}[pane,at={(56pt,197pt)},height=110pt,ymin=-42.5,ymax=46.2,ytick={-25,0,25},yticklabels={−25.00,0.000,25.00}]
\addplot[gridc!70!gray,line width=0.8pt,dashed,forget plot] coordinates {(-0.2,0)(169.4,0)};
\addplot[bars,fill=histb] table[x=i,y=v] {\histblue};
\addplot[bars,fill=histp] table[x=i,y=v] {\histpink};
\addplot[bars,fill=histg] table[x=i,y=v] {\histgray};
\end{axis}
\begin{axis}[pane,at={(56pt,67pt)},height=128pt,ymin=-2.095,ymax=22.285,ytick={0,10,20},yticklabels={0.000,10.00,20.00},
  xticklabels={\textbf{2026},Feb,Mar,Apr,May,Jun,Jul,Aug,Sep},xticklabel style={yshift=-6pt}]
\addplot[bars,fill=pgreen] table[x=i,y=g] {\panel};
\addplot[bars,fill=pyellow] table[x=i,y=y] {\panel};
\addplot[bars,fill=pred] table[x=i,y=r] {\panel};
\addplot[ppurple,line width=1pt,forget plot] coordinates {(-0.2,15)(179.6,15)};
\addplot[ppurple,line width=1pt,forget plot] coordinates {(-0.2,10)(179.6,10)};
\addplot[ppurple,line width=1pt,forget plot] coordinates {(-0.2,5)(179.6,5)};
\addplot[mabl,line width=2.4pt,line join=round,forget plot] coordinates {(0,1.1)(2.5,1.7)(5.9,3.6)(8.5,5.5)(10.5,6.3)(12.5,6.6)(15.9,8.7)(18.5,11.5)(20.5,12.2)(23.2,11.6)(26.5,13.9)(29.9,14.9)(33.2,15.5)(35.5,13.3)(38.5,13.1)(40.5,11.5)(42.5,10.8)(45.9,8.2)(47.9,7.4)(49.9,7.5)(51.9,6.8)(53.9,4.6)(56.5,2.7)(59.9,1.5)(65.2,0.6)(70.5,0.3)(77.9,0.25)(82.5,3.0)(85.2,3.9)(89.9,8.2)(93.2,9.2)(95.9,8.5)(98,9.0)(100,8.2)(103.3,7.7)(105.3,7.3)(107.3,7.4)(112,7.9)(114,7.4)(116.7,4.9)(119.3,3.9)(122,3.6)(126,4.1)(130,3.5)(133.3,2.1)(136.7,1.1)(143.3,0.3)(169,0.3)};
\end{axis}
\begin{scope}[shift={(0pt,1080pt)},x=1pt,y=-1pt]
\newcommand\chev[2]{\draw[ink,line width=1pt,shift={(#1,#2)}] (-3.5,-1.5)--(0,1.5)--(3.5,-1.5);}
\newcommand\sync[2]{\fill[syncbg] (#1,#2) circle (9); \draw[syncf,line width=1.4pt,->,>=stealth,shift={(#1,#2)}] (-5.5,-1) arc[start angle=180,end angle=20,radius=5.5]; \draw[syncf,line width=1.4pt,->,>=stealth,shift={(#1,#2)}] (5.5,1) arc[start angle=0,end angle=-160,radius=5.5];}
\newcommand\txt[4][12.5]{\node[inner sep=0,text=#2] at #3 {\fontsize{#1}{#1}\selectfont #4};}
\fill[band] (0,39) rectangle (1080,42);
\fill[band] (52,42) rectangle (56,1080);
\fill[band] (1032,42) rectangle (1036,1080);
\fill[white] (0,0) rectangle (1080,39);
\fill[sep] (56,578) rectangle (1032,580);
\fill[sep] (56,670.5) rectangle (1032,672);
\fill[sep] (56,771.5) rectangle (1032,773);
\fill[sep] (56,883) rectangle (1032,884.5);
\fill[sep] (56,1012.5) rectangle (1032,1014);
\fill[sep] (955,42) rectangle (956.2,1043);
\fill[band] (56,1042) rectangle (1032,1045);
\fill[black] (26,19) circle (12.5);
\node[inner sep=0,text=green!80!black] at (26,18) {\fontsize{13}{13}\selectfont\textbf{M}};
\draw[red,line width=1pt] (19,13)--(17.5,13)--(17.5,24)--(19,24) (33,13)--(34.5,13)--(34.5,24)--(33,24);
\fill[dn] (39,9) circle (9.5);
\txt[10.5]{white}{(39,9)}{11}
\fill[gray!20,rounded corners=12pt] (56,7) rectangle (180,32);
\node[inner sep=0,text=ink,anchor=west] at (68,19) {\fontsize{15.5}{15.5}\selectfont\textbf{AEONCR}};
\fill[white] (170,19) circle (11);
\draw[ink,line width=1pt] (165,15.5)--(175,15.5)--(177,18)--(170,25)--(163,18)--cycle;
\draw[ink,line width=1.1pt] (206,19) circle (9);
\draw[ink,line width=1pt] (201.5,19)--(210.5,19) (206,14.5)--(206,23.5);
\fill[sep] (223,8) rectangle (224,30);
\foreach \t/\x in {1m/251,3m/283,5m/315,15m/351,30m/391,1h/425,4h/453,W/501}{\txt[15]{ink}{(\x,19)}{\t}}
\fill[gray!18,rounded corners=3pt] (469,2) rectangle (487,36);
\txt[15]{ink}{(478,19)}{D}
\chev{526}{19}
\fill[sep] (544,8) rectangle (545,30);
\draw[ink,line width=1pt] (564,12) rectangle (568,24) (566,8)--(566,12) (566,24)--(566,29) (571,15) rectangle (575,22) (573,11)--(573,15) (573,22)--(573,26);
\fill[sep] (588,8) rectangle (589,30);
\draw[ink,line width=1pt] (605,28) rectangle (610,22) (610,28) rectangle (615,24) (615,28) rectangle (620,18) (605,18)--(611,11)--(615,14)--(620,10);
\chev{644}{19}
\draw[ink,line width=1pt,rounded corners=1.5pt] (668,12) rectangle (674,18) (678,12) rectangle (684,18) (668,21) rectangle (674,27) (678,21) rectangle (684,27);
\fill[sep] (697,8) rectangle (698,30);
\draw[ink,line width=1pt] (721,20) circle (8.5) (721,15)--(721,20)--(725,20) (728,29)--(735,29) (731.5,25.5)--(731.5,32.5) (711,12)--(715,9) (727,9)--(731,12);
\draw[ink,line width=1pt] (761,14)--(755,19)--(761,24)--cycle (769,14)--(763,19)--(769,24)--cycle;
\fill[sep] (776,8) rectangle (777,30);
\draw[gray!70,line width=1pt] (812,24)--(812,20)--(802,20) (806,16)--(802,20)--(806,24);
\draw[gray!70,line width=1pt] (839,24)--(839,20)--(849,20) (845,16)--(849,20)--(845,24);
\draw[ink,line width=1.1pt,rounded corners=2pt] (874,11) rectangle (892,28);
\node[inner sep=0,text=ink,anchor=west] at (907,19) {\fontsize{14}{14}\selectfont INtra};
\draw[sep,fill=white,rounded corners=12pt] (938,6) rectangle (998,33);
\txt[14]{ink}{(968,19)}{Trade}
\fill[ink!85,rounded corners=13pt] (1006,5) rectangle (1074,33);
\txt[14]{white}{(1040,19)}{Publish}
\draw[dn,line width=1pt,rounded corners=4pt,fill=white] (65,70) rectangle (112,107);
\txt[13]{dn}{(88,85)}{\textbf{5.70}}
\txt[12]{dn}{(88,98)}{SELL}
\draw[blue!70!cyan,line width=1pt,rounded corners=4pt,fill=white] (149,70) rectangle (195,107);
\txt[13]{blue!70!cyan}{(172,85)}{\textbf{5.72}}
\txt[12]{blue!70!cyan}{(172,98)}{BUY}
\txt[11]{ink}{(131,91)}{0.02}
\fill[teal!15] (243,58) circle (9);
\fill[teal!75!black] (243,58) circle (4);
\txt[13]{ink}{(224,58)}{X}
\node[inner sep=0,anchor=west] at (260,58) {\fontsize{14.5}{14.5}\selectfont\color{ink}O\color{dn}5.72 \color{ink}H\color{dn}5.75 \color{ink}L\color{dn}5.69 \color{ink}C\color{dn}5.70 −0.04 (−0.70\%)};
\draw[sep,rounded corners=3pt,fill=white] (66,115) rectangle (104,136);
\chev{76}{125.5}
\txt[12.5]{ink}{(92,125.5)}{12}
\sync{129}{126}
\draw[sep,rounded corners=3pt,fill=white] (66,587) rectangle (94,606);
\chev{80}{596.5}
\sync{119}{597}
\draw[sep,rounded corners=3pt,fill=white] (66,680) rectangle (94,699);
\chev{80}{689.5}
\sync{119}{690}
\draw[sep,rounded corners=3pt,fill=white] (66,781) rectangle (94,800);
\chev{80}{790.5}
\sync{119}{791}
\fill[black!83,rounded corners=2pt] (10,42) rectangle (221,84);
\fill[black!83] (21,42)--(27,37)--(33,42)--cycle;
\node[inner sep=0,anchor=west,text=white!90!black] at (18,55) {\fontsize{13}{13}\selectfont Logged in as MahersahamOfficial};
\node[inner sep=0,anchor=west,text=white!90!black] at (18,72) {\fontsize{13}{13}\selectfont Active layout: INtraswing 1D};
\foreach \y in {59,596,689}{
\draw[sep,rounded corners=3pt,fill=white] (959,\y-12) rectangle (1027,\y+12);
\node[inner sep=0,anchor=west,text=ink] at (963,\y) {\fontsize{12}{12}\selectfont MYR};
\chev{1019}{\y}
}
\fill[dotg,rounded corners=2pt] (903,272) rectangle (955,291);
\fill[dotg,rounded corners=2pt] (957,272) rectangle (993,291);
\txt[13.5]{ink}{(929,281.5)}{AEONCR}
\txt[13.5]{ink}{(975,281.5)}{5.70}
\fill[black,rounded corners=2pt] (274,92) rectangle (300,111);
\fill[black] (284,110)--(287,113)--(290,110)--cycle;
\fill[stopr] (287,113) circle (3);
\txt[12.5]{white}{(287,102)}{Sell}
\fill[black,rounded corners=2pt] (619,81) rectangle (645,100);
\txt[12.5]{white}{(632,91)}{Sell}
\fill[stopg] (452,452) circle (3.5);
\fill[mapu,rounded corners=2.5pt] (438,455) rectangle (466,475);
\txt[12.5]{white}{(452,465)}{Buy}
\fill[black!8,rounded corners=6pt] (539,101) rectangle (642,139);
\fill[white,rounded corners=6pt] (540,99) rectangle (640,136);
\foreach \a in {548,552.5}{\foreach \b in {114,118.5,123}{\fill[gray!40] (\a,\b) circle (1);}}
\foreach \s in {572,608}{
\draw[ink,line width=0.8pt,shift={(\s,0)}] (0,124)--(8,117)--(14,124)--(21,117);
\foreach \a/\b in {0/124,7/116,14/124,21/117}{\draw[ink,fill=white,line width=0.7pt] (\s+\a,\b) circle (2);}
}
\txt[9]{ink}{(579,109)}{\textbf{1}}
\txt[9]{ink}{(594,109)}{\textbf{5}}
\txt[9]{ink}{(617,109)}{\textbf{A}}
\txt[9]{ink}{(632,109)}{\textbf{C}}
\draw[gray,line width=1.2pt,fill=white,rounded corners=2pt] (82,556) rectangle (100,574);
\txt[12.5]{ink!80}{(91,565)}{E}
\foreach \x in {447,758}{
\draw[teal!85!green,line width=1.2pt,fill=white,shift={(\x,0)}] (-9,560)--(0,555)--(9,560)--(9,575)--(-9,575)--cycle;
\txt[12.5]{teal!85!green}{(\x,566)}{E}}
\draw[blue!70!cyan,line width=1.3pt,fill=white] (728,565) circle (9.5);
\txt[12.5]{blue!70!cyan}{(728,565)}{D}
\fill[white] (66,982) rectangle (100,1001);
\fill[black] (68,984) -- (82,984) -- (82,999) -- (76,999) -- (76,990) -- (68,990) -- cycle;
\fill[black] (91,984) -- (99,984) -- (92,999) -- (84,999) -- cycle;
\fill[black] (87,987) circle (2.6);
\draw[ink,line width=1pt,shift={(993.5,1027)}] (-4,-6)--(4,-6)--(7.5,0)--(4,6)--(-4,6)--(-7.5,0)--cycle (0,0) circle (2.2);
\begin{scope}[ink,line width=1pt]
\draw (19,113)--(34,98); \draw[fill=white] (18,114) circle (2.2) (35,97) circle (2.2);
\draw (15,133)--(37,133) (15,139)--(37,139) (15,145)--(33,145) (19,151)--(37,151) (15,157)--(37,157);
\draw[fill=white] (35,145) circle (2) (17,151) circle (2);
\draw (20,172)--(33,172)--(36,191)--(17,191)--cycle (20,172)--(27,181)--(36,191) (33,172)--(27,181)--(17,191);
\foreach \a/\b in {20/172,33/172,36/191,17/191,27/181}{\draw[fill=white] (\a,\b) circle (2);}
\draw (20,211)--(37,211) (20,218)--(37,218) (20,227)--(37,227) (30,218)--(30,213) (30,218)--(33,218);
\draw[fill=white] (18,211) circle (2) (18,227) circle (2);
\draw (17,268)--(30,255)--(33,268)--(17,268) (31,253)--(38,247);
\draw (18,287)--(36,287) (27,287)--(27,304) (23,304)--(31,304);
\draw (26,333) circle (9.5);
\fill (22.5,330) circle (1.1) (29.5,330) circle (1.1);
\draw (21,336) .. controls (24,340) and (28,340) .. (31,336);
\fill[sep] (8,358) rectangle (44,359);
\draw (15,386)--(31,372)--(37,379)--(21,393)--cycle (19,383)--(22,386) (23,380)--(26,383) (27,376)--(30,379);
\draw (25,421) circle (7.5) (30.5,426.5)--(37,433) (21,421)--(29,421) (25,417)--(25,425);
\fill[sep] (8,446) rectangle (44,447);
\draw[line width=1.1pt] (17,482)--(17,472) arc[start angle=180,end angle=360,radius=9] (35,472)--(35,482)--(30,482)--(30,472) arc[start angle=0,end angle=-180,radius=4] (22,472)--(22,482)--cycle (17,477)--(22,477) (30,477)--(35,477);
\draw (17,516)--(20,519)--(31,507)--(26,503)--(17,513)--cycle (31,519) rectangle (38,513) (32,513)--(32,511) (37,513)--(37,511);
\draw (20,558) rectangle (33,548) (22,548)--(22,544) arc[start angle=180,end angle=360,radius=4];
\draw (15,587) .. controls (20,578) and (32,578) .. (37,587) .. controls (32,596) and (20,596) .. (15,587) (26,587) circle (3.5);
\draw[rounded corners=3pt] (24,621)--(32,616)--(36,621)--(28,629) (28,631)--(20,636)--(16,631)--(24,623);
\fill[sep] (8,651) rectangle (44,652);
\draw (17,666)--(35,666) (19,666)--(21,685)--(31,685)--(33,666) (23,666)--(24,663)--(28,663)--(29,666);
\fill[ink!85,rounded corners=3pt] (9,1025) rectangle (43,1057);
\draw[white,line width=1.1pt] (26,1031)--(28.5,1037.5)--(35.5,1038)--(30,1042.5)--(32,1049.5)--(26,1045.5)--(20,1049.5)--(22,1042.5)--(16.5,1038)--(23.5,1037.5)--cycle;
\end{scope}
\begin{scope}[ink,line width=1pt]
\draw (1049,56)--(1067,56)--(1067,76)--(1058,71)--(1049,76)--cycle (1052,61)--(1064,61) (1052,65)--(1064,65) (1052,69)--(1064,69);
\draw (1058,112) circle (9.5) (1058,106)--(1058,112)--(1062,112) (1047,103)--(1051,100) (1065,100)--(1069,103);
\draw (1047,153)--(1058,147)--(1069,153)--(1058,159)--cycle (1047,158)--(1058,164)--(1069,158);
\draw[rounded corners=1pt] (1047,195) rectangle (1069,212);
\draw[white,line width=2pt] (1052,212)--(1058,212);
\draw (1052,212)--(1052,218)--(1058,212);
\fill[dn] (1068,193) circle (8);
\draw (1058,772) circle (12.5) (1058,772) circle (7) (1058,772)--(1065,762);
\draw (1046,827)--(1058,807)--(1070,827)--cycle (1050,820)--(1058,815)--(1066,820);
\draw[rounded corners=1pt] (1046,851) rectangle (1070,871) (1046,857)--(1070,857) (1052,847)--(1052,854) (1064,847)--(1064,854);
\draw (1048,903) arc[start angle=270,end angle=360,radius=15] (1048,909) arc[start angle=270,end angle=360,radius=9];
\fill (1050,916) circle (1.8);
\draw (1047,962)--(1069,962) (1050,962)--(1050,952) arc[start angle=180,end angle=360,radius=8] (1066,952)--(1066,962) (1055,966)--(1061,966);
\fill[black] (1058,998) circle (17);
\foreach \a in {-6.5,0,6.5}{\foreach \b in {-6.5,0,6.5}{\fill[white] (1058+\a,998+\b) circle (2.2);}}
\draw (1058,1055) circle (14);
\end{scope}
\txt[11]{white}{(1068,193)}{1}
\fill[dn,rounded corners=7pt] (1046,889) rectangle (1076,904);
\txt[11]{white}{(1061,896.5)}{99+}
\fill[dn,rounded corners=7pt] (1055,934) rectangle (1077,949);
\txt[11]{white}{(1066,941.5)}{59}
\txt[17]{ink}{(1058,1055)}{?}
\foreach \t/\x in {1D/79,5D/110,1M/140,3M/172,6M/204,YTD/239,1Y/272,5Y/300,All/328}{\txt[15]{ink}{(\x,1061)}{\t}}
\fill[sep] (346,1050) rectangle (347,1072);
\draw[ink,line width=1pt,rounded corners=1pt] (362,1055) rectangle (379,1070) (362,1059)--(379,1059) (366,1052)--(366,1057) (375,1052)--(375,1057);
\txt[16]{ink}{(929,1061)}{13:32:48 UTC+8}
\fill[sep] (985,1050) rectangle (986,1072);
\txt[16]{ink}{(1008,1061)}{ADJ}
\end{scope}
\end{tikzpicture}
\end{document}
